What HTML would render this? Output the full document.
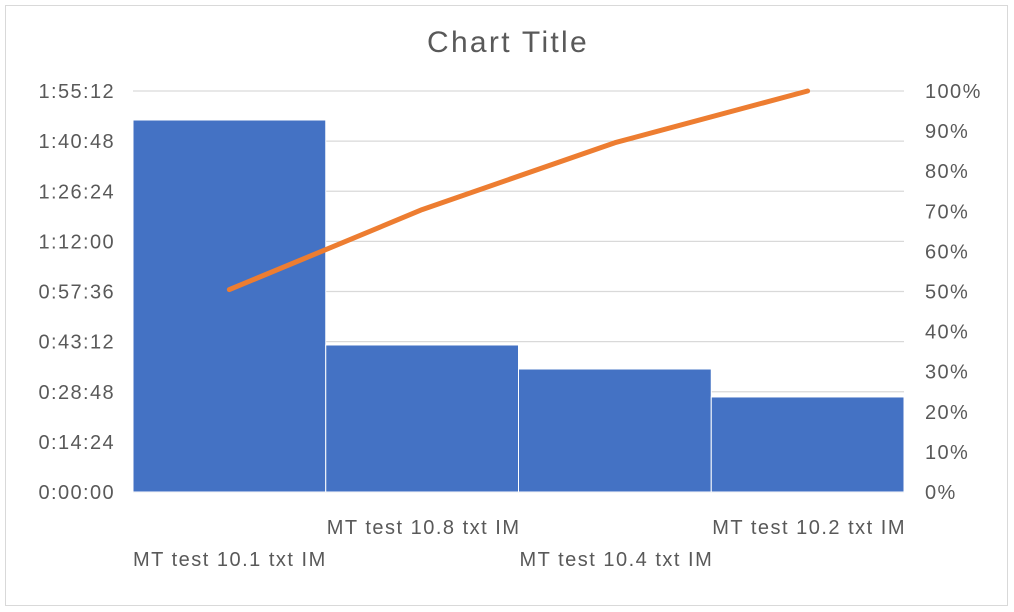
<!DOCTYPE html>
<html><head><meta charset="utf-8"><style>
html,body{margin:0;padding:0;background:#fff;}
svg{display:block;font-family:"Liberation Sans",sans-serif;}
</style></head><body>
<svg id="chart" width="1014" height="612">
<rect x="5.5" y="5.5" width="1002" height="600" fill="#fff" stroke="#d9d9d9"/>
<text x="508" y="52" text-anchor="middle" font-size="30" letter-spacing="2.3" fill="#595959">Chart Title</text>
<g id="grid"></g><g id="bars"></g><g id="line"></g><g id="yl"></g><g id="yr"></g><g id="xl"></g>
</svg>
<script>
const categories=["MT test 10.1 txt IM","MT test 10.8 txt IM","MT test 10.4 txt IM","MT test 10.2 txt IM"];
const durations=[6412,2534,2120,1638];
const leftTicks=["0:00:00","0:14:24","0:28:48","0:43:12","0:57:36","1:12:00","1:26:24","1:40:48","1:55:12"];
const rightTicks=["0%","10%","20%","30%","40%","50%","60%","70%","80%","90%","100%"];
const NS="http://www.w3.org/2000/svg";
const L=133,R=904,T=91,B=492,maxS=6912;
const y=s=>B-(s/maxS)*(B-T);
const yp=p=>B-p*(B-T);
const bw=(R-L)/categories.length;
const x=i=>L+i*bw;
function mk(tag,attrs,parent,text){const e=document.createElementNS(NS,tag);for(const k in attrs)e.setAttribute(k,attrs[k]);if(text!==undefined)e.textContent=text;document.getElementById(parent).appendChild(e);return e;}
leftTicks.forEach((t,i)=>{const yy=B-i*(B-T)/(leftTicks.length-1);
 const g=mk('line',{x1:L,x2:R,y1:yy,y2:yy,stroke:'#d9d9d9','stroke-width':1.3},'grid');
 
 
 const tx=mk('text',{x:115,y:yy+7,'text-anchor':'end','font-size':20,'letter-spacing':1.4,fill:'#595959'},'yl',t);
 
 });
rightTicks.forEach((t,i)=>{const yy=yp(i/10);
 const tx=mk('text',{x:925,y:yy+7,'font-size':20,'letter-spacing':1.4,fill:'#595959'},'yr',t);
 
 });
const total=durations.reduce((a,b)=>a+b,0);let cum=0;const pts=[];
durations.forEach((d,i)=>{
 const r=mk('rect',{x:x(i),y:y(d),width:bw,height:B-y(d),fill:'#4472c4',stroke:'#fff','stroke-width':1},'bars');
 
 
 cum+=d;pts.push([x(i)+bw/2,yp(cum/total)]);
 const ly=i%2===0?566:534;
 const tx=mk('text',{x:i===0?x(i):x(i)+1,y:ly,'font-size':20,'letter-spacing':1.5,fill:'#595959'},'xl',categories[i]);
 
 });
const ln=mk('polyline',{points:pts.map(p=>p.join(',')).join(' '),fill:'none',stroke:'#ed7d31','stroke-width':5,'stroke-linecap':'round','stroke-linejoin':'round'},'line');


const ax=mk('line',{x1:L,x2:R,y1:B,y2:B,stroke:'#d9d9d9','stroke-width':1.3},'grid');


</script>
</body></html>
